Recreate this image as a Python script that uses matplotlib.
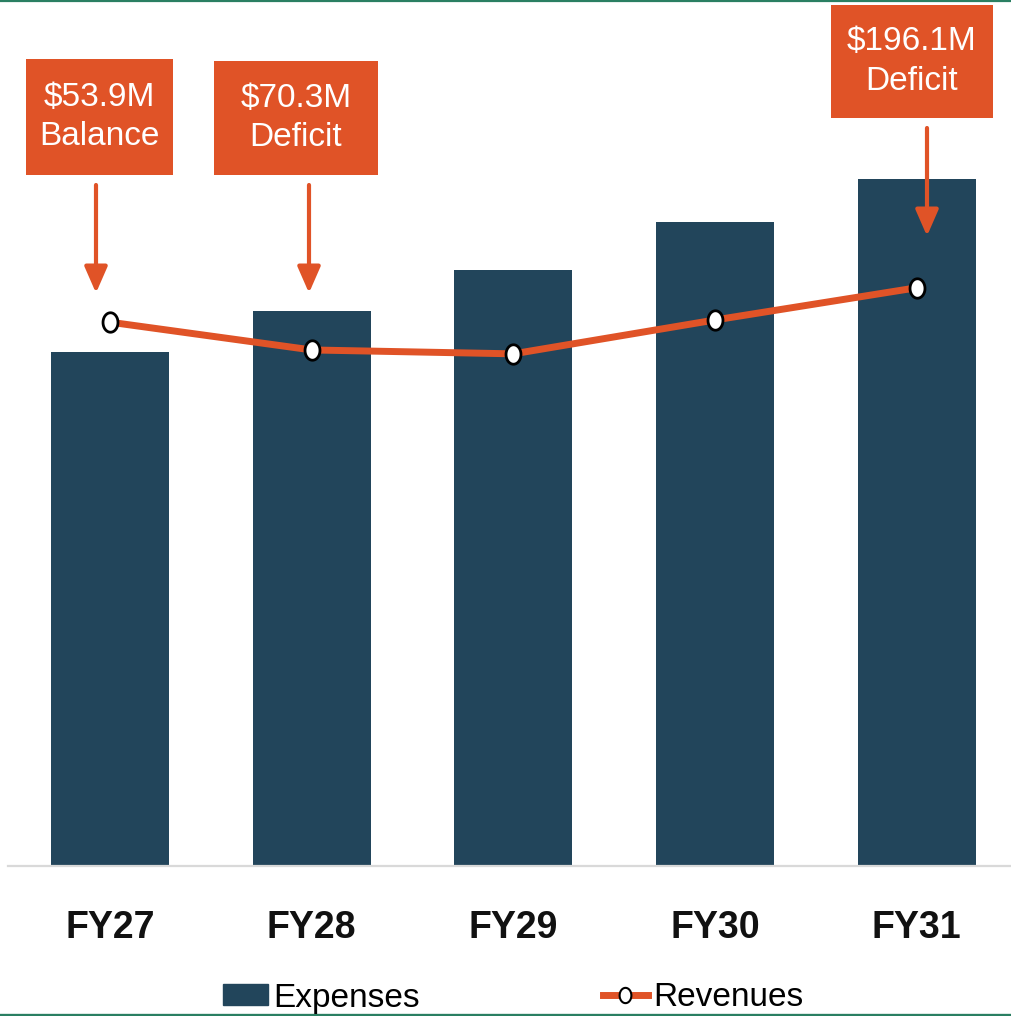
import matplotlib.pyplot as plt
from matplotlib.patches import Rectangle, Patch
from matplotlib.lines import Line2D
from matplotlib.path import Path
import numpy as np

years = ["FY27", "FY28", "FY29", "FY30", "FY31"]
expenses = [925, 999, 1073, 1159, 1237]
revenues = [979, 929, 922, 983, 1041]
callouts = ["$53.9M\nBalance", "$70.3M\nDeficit", "$196.1M\nDeficit"]

ORANGE = "#E05327"
NAVY = "#22455B"
GREEN = "#2A7F62"
W, H = 1011, 1016

plt.rcParams['font.family'] = ['Liberation Sans', 'DejaVu Sans']

fig = plt.figure(figsize=(W / 100, H / 100), dpi=100)
ax = fig.add_axes([8 / W, 150 / H, 1 - 8 / W, 1 - 150 / H])

x = np.arange(len(years))
ax.bar(x, expenses, width=0.585, color=NAVY, zorder=2, label="Expenses")

# slightly tall ellipse marker, like the original
t = np.linspace(0, 2 * np.pi, 60)
ellipse = Path(np.column_stack([np.cos(t), 1.3 * np.sin(t)]), closed=True)
ax.plot(x, revenues, color=ORANGE, lw=5, marker=ellipse, markersize=14,
        markerfacecolor="white", markeredgecolor="black", markeredgewidth=2,
        zorder=3, label="Revenues")

ax.set_xlim(-0.506, 4.467)
ax.set_ylim(0, 1559)
ax.set_xticks(x)
ax.set_xticklabels(years, fontsize=27, fontweight="bold", color="#111111")
ax.tick_params(axis="x", length=0, pad=32)
ax.set_yticks([])
for s in ["top", "left", "right"]:
    ax.spines[s].set_visible(False)
ax.spines["bottom"].set_color("#d9d9d9")
ax.spines["bottom"].set_linewidth(1.6)


def fx(px):
    return px / W


def fy(py):
    return 1 - py / H


# callout boxes (pixel layout: left, top, right, bottom)
boxes = [(26, 59, 173, 175), (214, 61, 378, 175), (831, 5, 993, 118)]
arrows = [(96, 185, 293), (309, 185, 293), (927, 128, 236)]
for (l, tp, r, b), txt in zip(boxes, callouts):
    fig.add_artist(Rectangle((fx(l), fy(b)), fx(r - l), (b - tp) / H,
                             transform=fig.transFigure, color=ORANGE, lw=0))
    fig.text(fx((l + r) / 2), fy((tp + b) / 2), txt, color="white", fontsize=24,
             ha="center", va="center", linespacing=1.35)
for ax_x, y0, y1 in arrows:
    fig.add_artist(plt.Annotation("", xy=(fx(ax_x), fy(y1)), xytext=(fx(ax_x), fy(y0)),
                                  xycoords=fig.transFigure, textcoords=fig.transFigure,
                                  arrowprops=dict(arrowstyle="-|>,head_length=0.8,head_width=0.35",
                                                  color=ORANGE, lw=3, shrinkA=0, shrinkB=0,
                                                  mutation_scale=20)))

# green rules top and bottom
fig.add_artist(Line2D([0, 1], [fy(1), fy(1)], transform=fig.transFigure, color=GREEN, lw=1.6))
fig.add_artist(Line2D([0, 1], [fy(1014.5), fy(1014.5)], transform=fig.transFigure, color=GREEN, lw=2.4))

handles = [Patch(color=NAVY, label="Expenses"),
           Line2D([], [], color=ORANGE, lw=5, marker=ellipse, markersize=11,
                  markerfacecolor="white", markeredgecolor="black", markeredgewidth=1.5,
                  label="Revenues")]
fig.legend(handles=handles, loc="center", bbox_to_anchor=(fx(513), fy(998)), ncol=2,
           frameon=False, fontsize=24, handlelength=1.35, handleheight=0.6,
           handletextpad=0.15, columnspacing=5.5, borderpad=0)

fig.savefig("out.png", dpi=100)
